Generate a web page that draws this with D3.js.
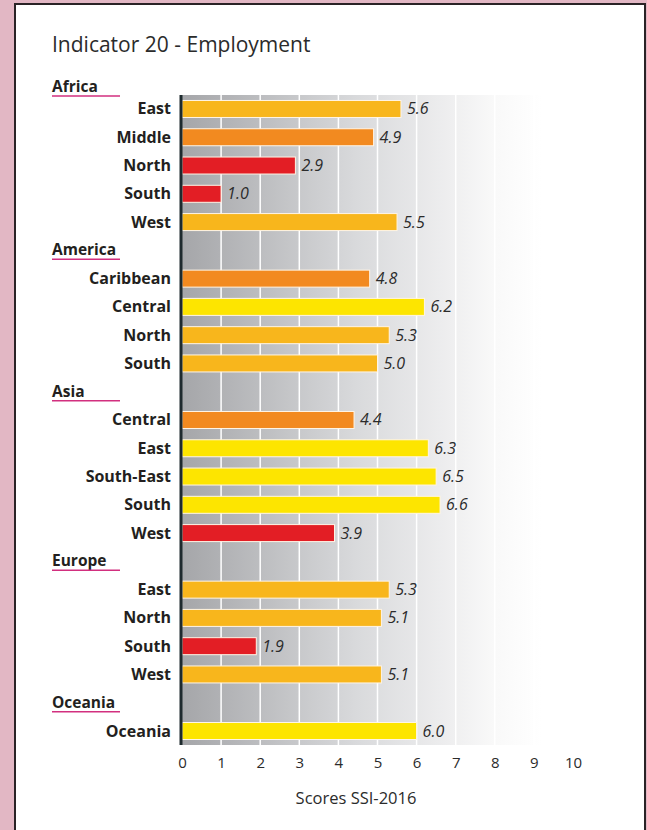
<!DOCTYPE html>
<html>
<head>
<meta charset="utf-8">
<title>Indicator 20 - Employment</title>
<script src="https://d3js.org/d3.v7.min.js"></script>
<style>
  body { margin: 0; background: #e2b7c4; }
  svg { display: block; font-family: "Open Sans", sans-serif; }
</style>
</head>
<body>
<div id="chart"></div>
<script>
// data
var groups = ["Africa", "America", "Asia", "Europe", "Oceania"];
var regions = [
  ["East", "Middle", "North", "South", "West"],
  ["Caribbean", "Central", "North", "South"],
  ["Central", "East", "South-East", "South", "West"],
  ["East", "North", "South", "West"],
  ["Oceania"]
];
var scores = [
  [5.6, 4.9, 2.9, 1.0, 5.5],
  [4.8, 6.2, 5.3, 5.0],
  [4.4, 6.3, 6.5, 6.6, 3.9],
  [5.3, 5.1, 1.9, 5.1],
  [6.0]
];
var ticks = [0, 1, 2, 3, 4, 5, 6, 7, 8, 9, 10];

var width = 647, height = 830;

// flatten into rows: group header then its regions
var rows = [];
groups.forEach(function(g, gi) {
  rows.push({id: "h" + gi, type: "head", label: g});
  regions[gi].forEach(function(r, ri) {
    rows.push({id: gi + "-" + ri, type: "bar", label: r, value: scores[gi][ri]});
  });
});

var x = d3.scaleLinear().domain([0, 10]).range([182, 573]);
var y = d3.scalePoint().domain(rows.map(function(d) { return d.id; })).range([80.7, 731]);

function barColor(v) {
  if (v < 4) return "#e31e25";
  if (v < 5) return "#f28a20";
  if (v < 6) return "#f8b61c";
  return "#fde500";
}

var svg = d3.select("#chart").append("svg")
  .attr("width", width)
  .attr("height", height);

// white panel
svg.append("rect")
  .attr("x", 15).attr("y", 4)
  .attr("width", 630).attr("height", 840)
  .style("fill", "#fff")
  .style("stroke", "#2a2326")
  .style("stroke-width", 2);

var grad = svg.append("defs").append("linearGradient")
  .attr("id", "bg")
  .attr("x1", "0%").attr("x2", "100%").attr("y1", "0%").attr("y2", "0%");
grad.append("stop").attr("offset", "0%").attr("stop-color", "#a5a6a9");
grad.append("stop").attr("offset", "45%").attr("stop-color", "#d9dadc");
grad.append("stop").attr("offset", "68%").attr("stop-color", "#eeeeef");
grad.append("stop").attr("offset", "80%").attr("stop-color", "#f9f9f9");
grad.append("stop").attr("offset", "92%").attr("stop-color", "#ffffff");

var plotTop = 95, plotBottom = 745;

svg.append("rect")
  .attr("x", x(0)).attr("y", plotTop)
  .attr("width", x(10) - x(0)).attr("height", plotBottom - plotTop)
  .style("fill", "url(#bg)");

// vertical grid
svg.selectAll(".grid")
  .data(ticks.slice(1))
  .enter().append("line")
  .attr("class", "grid")
  .attr("x1", function(d) { return x(d); })
  .attr("x2", function(d) { return x(d); })
  .attr("y1", plotTop).attr("y2", plotBottom)
  .style("stroke", "#fff")
  .style("stroke-width", 1.5);

// title
svg.append("text")
  .attr("x", 52).attr("y", 52)
  .text("Indicator 20 - Employment")
  .style("font-size", "21px")
  .style("fill", "#2b2b2b");

var barRows = rows.filter(function(d) { return d.type == "bar"; });
var headRows = rows.filter(function(d) { return d.type == "head"; });

// bars
svg.selectAll(".bar")
  .data(barRows)
  .enter().append("rect")
  .attr("class", "bar")
  .attr("x", x(0))
  .attr("y", function(d) { return y(d.id) - 8.5; })
  .attr("width", function(d) { return x(d.value) - x(0); })
  .attr("height", 17)
  .style("fill", function(d) { return barColor(d.value); })
  .style("stroke", "#fff5e6")
  .style("stroke-width", 1);

// value labels
svg.selectAll(".val")
  .data(barRows)
  .enter().append("text")
  .attr("class", "val")
  .attr("x", function(d) { return x(d.value) + 6; })
  .attr("y", function(d) { return y(d.id) + 5.5; })
  .text(function(d) { return d.value.toFixed(1); })
  .style("font-size", "16px")
  .style("font-style", "italic")
  .style("fill", "#2b2b2b");

// region labels
svg.selectAll(".lab")
  .data(barRows)
  .enter().append("text")
  .attr("class", "lab")
  .attr("x", 171)
  .attr("y", function(d) { return y(d.id) + 5.5; })
  .attr("text-anchor", "end")
  .text(function(d) { return d.label; })
  .style("font-size", "16px")
  .style("font-weight", "bold")
  .style("fill", "#231f20");

// group headers with underline
function headY(d) { return Math.max(y(d.id), 87); }
var heads = svg.selectAll(".head")
  .data(headRows)
  .enter().append("g")
  .attr("class", "head");
heads.append("text")
  .attr("x", 52)
  .attr("y", function(d) { return headY(d) + 5; })
  .text(function(d) { return d.label; })
  .style("font-size", "15.5px")
  .style("font-weight", "bold")
  .style("fill", "#231f20");
heads.append("line")
  .attr("x1", 52).attr("x2", 120)
  .attr("y1", function(d) { return headY(d) + 9; })
  .attr("y2", function(d) { return headY(d) + 9; })
  .style("stroke", "#d22f7f")
  .style("stroke-width", 1.5);

// dark axis line at zero
svg.append("line")
  .attr("x1", x(0) - 1).attr("x2", x(0) - 1)
  .attr("y1", plotTop).attr("y2", plotBottom)
  .style("stroke", "#1e2a2e")
  .style("stroke-width", 3);

// x axis
var xAxis = d3.axisBottom(x).tickValues(ticks).tickSize(0).tickPadding(0);
var ax = svg.append("g")
  .attr("transform", "translate(0," + 757 + ")")
  .call(xAxis);
ax.select(".domain").remove();
ax.selectAll("text")
  .style("font-size", "15px")
  .style("font-family", "Open Sans, sans-serif")
  .style("fill", "#2b2b2b");

svg.append("text")
  .attr("x", 356).attr("y", 804)
  .attr("text-anchor", "middle")
  .text("Scores SSI-2016")
  .style("font-size", "16.5px")
  .style("fill", "#2b2b2b");
</script>
</body>
</html>
